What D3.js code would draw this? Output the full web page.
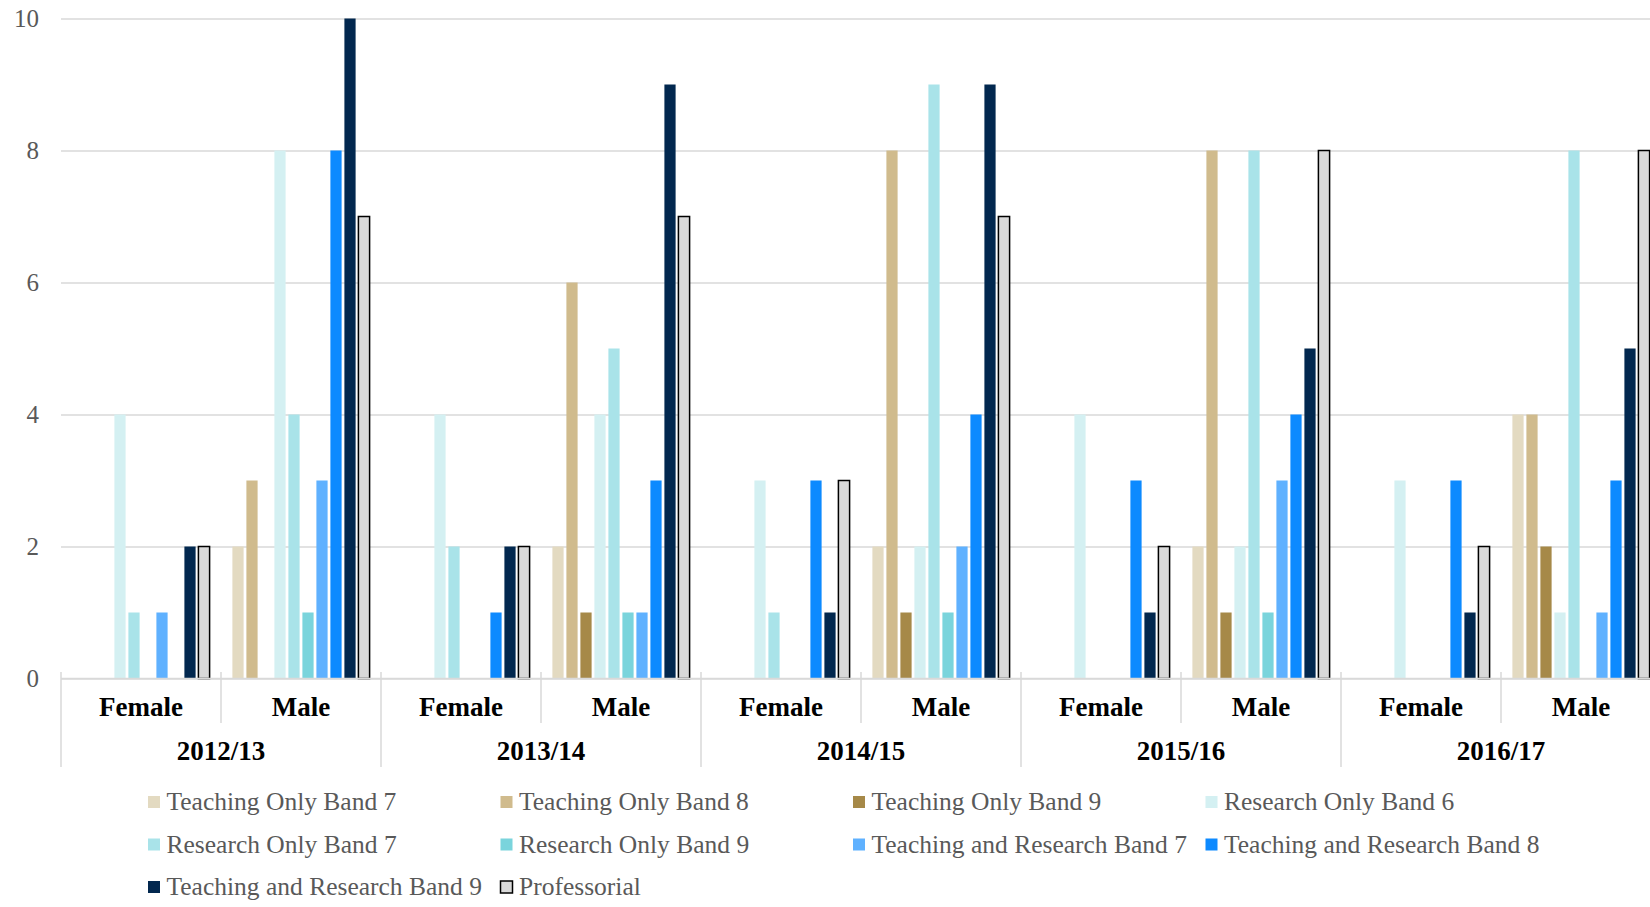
<!DOCTYPE html>
<html>
<head>
<meta charset="utf-8">
<script src="https://cdn.jsdelivr.net/npm/d3@7/dist/d3.min.js"></script>
<style>
  html, body { margin: 0; padding: 0; background: #ffffff; }
  svg { display: block; }
  text { font-family: "Liberation Serif", "Times New Roman", serif; }
</style>
</head>
<body>
<svg id="chart" width="1650" height="907"></svg>
<script>
// Academic staff counts by contract type, split by year and gender
const years = ["2012/13", "2013/14", "2014/15", "2015/16", "2016/17"];
const genders = ["Female", "Male"];
const seriesNames = [
  "Teaching Only Band 7",
  "Teaching Only Band 8",
  "Teaching Only Band 9",
  "Research Only Band 6",
  "Research Only Band 7",
  "Research Only Band 9",
  "Teaching and Research Band 7",
  "Teaching and Research Band 8",
  "Teaching and Research Band 9",
  "Professorial"
];
const seriesColors = [
  "#e3dac1", "#d0bb8d", "#a68948",
  "#d4f0f2", "#a9e3e9", "#7ad4dc",
  "#5fb1ff", "#0d8aff", "#02284f",
  "#d9d9d9"
];
const yTicks = [0, 2, 4, 6, 8, 10];

// One array per year/gender group, values in series order
const v2012F = [0, 0, 0, 4, 1, 0, 1, 0, 2, 2];
const v2012M = [2, 3, 0, 8, 4, 1, 3, 8, 10, 7];
const v2013F = [0, 0, 0, 4, 2, 0, 0, 1, 2, 2];
const v2013M = [2, 6, 1, 4, 5, 1, 1, 3, 9, 7];
const v2014F = [0, 0, 0, 3, 1, 0, 0, 3, 1, 3];
const v2014M = [2, 8, 1, 2, 9, 1, 2, 4, 9, 7];
const v2015F = [0, 0, 0, 4, 0, 0, 0, 3, 1, 2];
const v2015M = [2, 8, 1, 2, 8, 1, 3, 4, 5, 8];
const v2016F = [0, 0, 0, 3, 0, 0, 0, 3, 1, 2];
const v2016M = [4, 4, 2, 1, 8, 0, 1, 3, 5, 8];

const groupValues = {
  "2012/13": { Female: v2012F, Male: v2012M },
  "2013/14": { Female: v2013F, Male: v2013M },
  "2014/15": { Female: v2014F, Male: v2014M },
  "2015/16": { Female: v2015F, Male: v2015M },
  "2016/17": { Female: v2016F, Male: v2016M }
};

const svg = d3.select("#chart");
const plotLeft = 61, plotRight = 1661, plotTop = 18.5, plotBottom = 678.5;
const gridColor = "#d9d9d9";

const x0 = d3.scaleBand().domain(years).range([plotLeft, plotRight]);
const x1 = d3.scaleBand().domain(genders).range([0, x0.bandwidth()]);
const x2 = d3.scaleBand().domain(seriesNames)
  .range([10, x1.bandwidth() - 10]).paddingInner(0.2).paddingOuter(0.1);
const y = d3.scaleLinear().domain([0, 10]).range([plotBottom, plotTop]);

// Horizontal gridlines and value labels
const yAxis = svg.append("g")
  .attr("transform", `translate(${plotLeft},0)`)
  .call(d3.axisLeft(y).tickValues(yTicks).tickSize(-(1650 - plotLeft)).tickPadding(22).tickFormat(d3.format("d")));
yAxis.select(".domain").remove();
yAxis.selectAll(".tick line").attr("stroke", gridColor).attr("stroke-width", 1.5);
yAxis.selectAll(".tick text")
  .attr("fill", "#595959")
  .attr("font-size", 25)
  .attr("font-family", "Liberation Serif, serif");

// Bars
const rows = [];
years.forEach(yr => genders.forEach(g => {
  groupValues[yr][g].forEach((v, i) => rows.push({ year: yr, gender: g, series: seriesNames[i], idx: i, value: v }));
}));

const barG = svg.append("g");
barG.selectAll("rect")
  .data(rows.filter(d => d.value > 0))
  .join("rect")
  .attr("x", d => x0(d.year) + x1(d.gender) + x2(d.series))
  .attr("y", d => y(d.value))
  .attr("width", x2.bandwidth())
  .attr("height", d => y(0) - y(d.value))
  .attr("fill", d => seriesColors[d.idx])
  .attr("stroke", d => d.series === "Professorial" ? "#000000" : "none")
  .attr("stroke-width", 1.5);

// Category axis: baseline, separators and two label levels
const catG = svg.append("g");
catG.append("line")
  .attr("x1", plotLeft).attr("x2", 1650)
  .attr("y1", plotBottom).attr("y2", plotBottom)
  .attr("stroke", gridColor).attr("stroke-width", 1.5);

const yearEdges = years.map(yr => x0(yr)).concat([x0(years[years.length - 1]) + x0.bandwidth()]);
catG.selectAll("line.year-sep")
  .data(yearEdges)
  .join("line")
  .attr("class", "year-sep")
  .attr("x1", d => d).attr("x2", d => d)
  .attr("y1", 672).attr("y2", 767)
  .attr("stroke", gridColor).attr("stroke-width", 1.5);

catG.selectAll("line.gender-sep")
  .data(years)
  .join("line")
  .attr("class", "gender-sep")
  .attr("x1", d => x0(d) + x1("Male")).attr("x2", d => x0(d) + x1("Male"))
  .attr("y1", 672).attr("y2", 723)
  .attr("stroke", gridColor).attr("stroke-width", 1.5);

const genderCells = [];
years.forEach(yr => genders.forEach(g => genderCells.push({ year: yr, gender: g })));
catG.selectAll("text.gender")
  .data(genderCells)
  .join("text")
  .attr("class", "gender")
  .attr("x", d => x0(d.year) + x1(d.gender) + x1.bandwidth() / 2)
  .attr("y", 716)
  .attr("text-anchor", "middle")
  .attr("font-size", 27)
  .attr("font-weight", "bold")
  .attr("fill", "#000000")
  .text(d => d.gender);

catG.selectAll("text.year")
  .data(years)
  .join("text")
  .attr("class", "year")
  .attr("x", d => x0(d) + x0.bandwidth() / 2)
  .attr("y", 760)
  .attr("text-anchor", "middle")
  .attr("font-size", 27)
  .attr("font-weight", "bold")
  .attr("fill", "#000000")
  .text(d => d);

// Legend: four columns, wrapping into three rows
const legendCols = 4, legendX = 148, legendColStep = 352.5, legendY = 810, legendRowStep = 42.5;
const legend = svg.append("g");
const items = legend.selectAll("g")
  .data(seriesNames)
  .join("g")
  .attr("transform", (d, i) => `translate(${legendX + (i % legendCols) * legendColStep},${legendY + Math.floor(i / legendCols) * legendRowStep})`);
items.append("rect")
  .attr("x", 0).attr("y", -14)
  .attr("width", 12).attr("height", 12)
  .attr("fill", (d, i) => seriesColors[i])
  .attr("stroke", d => d === "Professorial" ? "#000000" : "none")
  .attr("stroke-width", 1.5);
items.append("text")
  .attr("x", 18.5).attr("y", 0)
  .attr("font-size", 25.5)
  .attr("fill", "#595959")
  .text(d => d);
</script>
</body>
</html>
